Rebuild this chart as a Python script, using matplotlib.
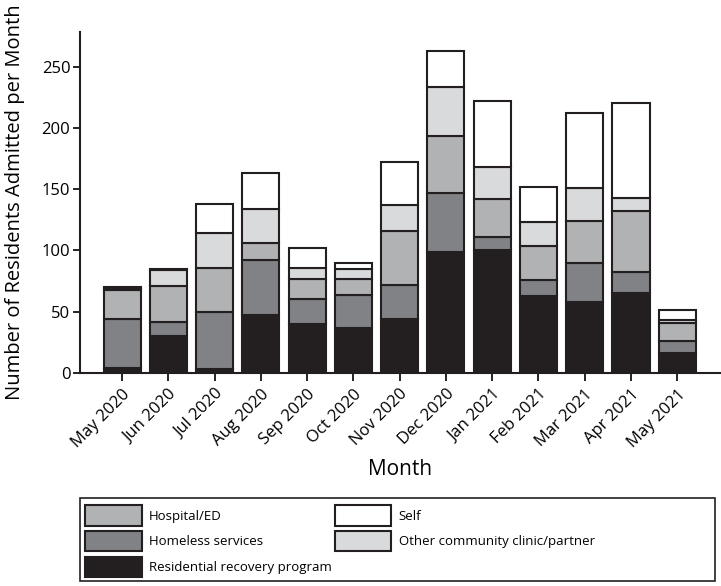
import numpy as np
import matplotlib.pyplot as plt
from matplotlib.patches import Rectangle

plt.rcParams['font.family'] = ['Open Sans', 'DejaVu Sans']

months = ["May 2020", "Jun 2020", "Jul 2020", "Aug 2020", "Sep 2020", "Oct 2020",
          "Nov 2020", "Dec 2020", "Jan 2021", "Feb 2021", "Mar 2021", "Apr 2021", "May 2021"]

# admissions per month by referral source (stack order bottom -> top)
residential = [4, 30, 3, 47, 40, 37, 44, 99, 100, 63, 58, 65, 16]
homeless = [40, 12, 47, 45, 20, 27, 28, 48, 11, 13, 32, 17, 10]
hospital = [24, 29, 36, 14, 17, 13, 44, 46, 31, 28, 34, 50, 15]
other = [1, 13, 28, 28, 9, 8, 21, 40, 26, 19, 27, 11, 2]
self_ref = [1, 1, 24, 29, 16, 5, 35, 30, 54, 29, 61, 77, 8]

series = [
    ("Residential recovery program", residential, "#231f20"),
    ("Homeless services", homeless, "#808285"),
    ("Hospital/ED", hospital, "#b1b2b4"),
    ("Other community clinic/partner", other, "#d9dadc"),
    ("Self", self_ref, "#ffffff"),
]

fig = plt.figure(figsize=(7.21, 5.86), dpi=100)
ax = fig.add_axes([0.111, 0.3635, 0.888, 0.5815])

x = np.arange(len(months))
bottom = np.zeros(len(months))
bars = {}
for name, vals, col in series:
    bars[name] = ax.bar(x, vals, 0.8, bottom=bottom, color=col,
                        edgecolor="#231f20", linewidth=1.5, label=name)
    bottom += np.array(vals)

ax.set_xlim(-0.91, 12.93)
ax.set_ylim(0, 278)
ax.set_yticks([0, 50, 100, 150, 200, 250])
ax.set_xticks(x)
ax.set_xticklabels(months, rotation=45, ha="right", rotation_mode="anchor", fontsize=12)
ax.tick_params(axis="y", labelsize=12, length=5, width=1.2, pad=2)
ax.tick_params(axis="x", length=6, width=1.2)
for s in ["top", "right"]:
    ax.spines[s].set_visible(False)
for s in ["left", "bottom"]:
    ax.spines[s].set_linewidth(1.5)
    ax.spines[s].set_color("#231f20")

ax.set_ylabel("Number of Residents Admitted per Month", fontsize=14.5, labelpad=12)
ax.set_xlabel("Month", fontsize=15, labelpad=6)

# legend: frame drawn separately, two columns placed independently
fig.patches.append(Rectangle((0.111, 0.009), 0.881, 0.141, transform=fig.transFigure,
                             fill=False, edgecolor="#231f20", linewidth=1.2))

leg_kw = dict(loc="upper left", handlelength=4.3, handleheight=2.0, fontsize=9.5,
              frameon=False, borderaxespad=0, borderpad=0, labelspacing=0.42,
              handletextpad=0.55)
col1 = ["Hospital/ED", "Homeless services", "Residential recovery program"]
col2 = ["Self", "Other community clinic/partner"]
fig.legend([bars[n] for n in col1], col1, bbox_to_anchor=(0.118, 0.138), **leg_kw)
fig.legend([bars[n] for n in col2], col2, bbox_to_anchor=(0.464, 0.138), **leg_kw)

fig.savefig("out.png", dpi=100)
